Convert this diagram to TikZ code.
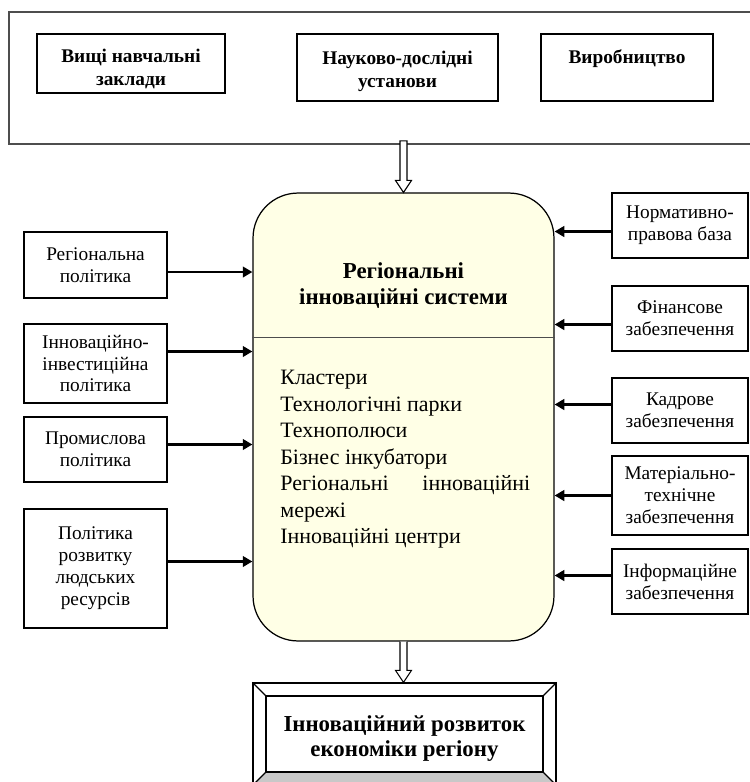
\documentclass[tikz,border=0pt]{standalone}
\usepackage{fontspec}
\setmainfont{Liberation Serif}
\usepackage{xcolor}
\usepackage{tikz}
\usetikzlibrary{positioning,arrows.meta,calc}

\definecolor{sysfill}{HTML}{FFFFE6}
\definecolor{bevelgray}{HTML}{C8C8C8}
\definecolor{framegray}{HTML}{4D4D4D}

\begin{document}
\begin{tikzpicture}[x=0.02cm, y=-0.02cm,
  topbox/.style={draw, line width=0.7pt, align=center, inner sep=0pt, font=\fontsize{11}{13}\selectfont\bfseries},
  sidebox/.style={draw, line width=0.7pt, align=center, inner sep=0pt, minimum width=2.86cm, font=\fontsize{11}{12.5}\selectfont},
  rightbox/.style={sidebox, minimum width=2.72cm},
  feed/.style={-{Triangle[length=5.5pt,width=6pt]}, line width=1.6pt},
  hollow/.style={draw, line width=0.6pt, fill=white}]

\useasboundingbox (0,0) rectangle (750,782);

% top frame
\node[draw=framegray, line width=1pt, minimum width=15.4cm, minimum height=2.64cm, inner sep=0pt] (frame) at (393.6,78) {};
\node[topbox, minimum width=3.76cm, minimum height=1.18cm] (univ) at (131,63.5) {\rule{0pt}{14pt}Вищі навчальні\\заклади};
\node[topbox, minimum width=4.02cm, minimum height=1.34cm] (inst) at (397.5,67.5) {\rule{0pt}{12pt}Науково-дослідні\\установи};
\node[topbox, minimum width=3.44cm, minimum height=1.34cm] (prod) at (627,67.5) {\rule{0pt}{12pt}Виробництво\\\strut};

% regional innovation system
\node[draw, line width=0.7pt, fill=sysfill, rounded corners=0.9cm, minimum width=6.02cm, minimum height=8.96cm, inner sep=0pt] (sys) at (403.5,417) {};
\draw[framegray, line width=0.8pt] ($(sys.north west)+(0,145)$) -- ($(sys.north east)+(0,145)$);
\node[font=\fontsize{13}{14.5}\selectfont\bfseries, align=center] (systitle) at (403.5,285.5) {Регіональні\\інноваційні системи};
\node[anchor=north west, inner sep=0pt, text width=5cm, align=justify, font=\fontsize{12.5}{15.1}\selectfont] (syslist) at (280,370)
  {Кластери\par Технологічні парки\par Технополюси\par Бізнес інкубатори\par Регіональні інноваційні\linebreak мережі\par Інноваційні центри};

% policies
\node[sidebox, minimum height=1.32cm] (regpol) at (95.5,265) {Регіональна\\політика};
\node[sidebox, minimum height=1.58cm] (invpol) at (95.5,363.5) {Інноваційно-\\інвестиційна\\політика};
\node[sidebox, minimum height=1.3cm] (indpol) at (95.5,449.5) {Промислова\\політика};
\node[sidebox, minimum height=2.38cm] (hrpol) at (95.5,568.5) {Політика\\розвитку\\людських\\ресурсів};

% support
\node[rightbox, minimum height=1.3cm] (legal) at (680,225.5) {Нормативно-\\правова база};
\node[rightbox, minimum height=1.3cm] (fin) at (680,318.5) {Фінансове\\забезпечення};
\node[rightbox, minimum height=1.3cm] (staff) at (680,410.5) {Кадрове\\забезпечення};
\node[rightbox, minimum height=1.58cm] (mat) at (680,495.5) {Матеріально-\\технічне\\забезпечення};
\node[rightbox, minimum height=1.3cm] (info) at (680,581.5) {Інформаційне\\забезпечення};

\foreach \b/\d in {regpol/7, invpol/-12, indpol/-5, hrpol/-7}
  \draw[feed] ($(\b.east)+(0,\d)$) -- ($(\b.east -| sys.west)+(0,\d)$);
\foreach \b/\d in {legal/6, fin/6, staff/-6, mat/0, info/-6}
  \draw[feed] ($(\b.west)+(0,\d)$) -- ($(\b.west -| sys.east)+(0,\d)$);

% result
\node[draw, line width=0.7pt, fill=white, minimum width=6.06cm, minimum height=2.04cm, inner sep=0pt] (result) at (404.5,734) {};
\fill[bevelgray] (result.south west) -- (result.south east) -- ($(result.south east)+(-13,-13)$) -- ($(result.south west)+(13,-13)$) -- cycle;
\node[draw, line width=0.7pt, minimum width=5.54cm, minimum height=1.52cm, inner sep=0pt, align=center, font=\fontsize{13}{14.5}\selectfont\bfseries] (resultin) at (404.5,734) {\rule{0pt}{14pt}Інноваційний розвиток\\економіки регіону};
\draw[line width=0.7pt] (result.south west) -- (result.south east);
\foreach \c in {north west, north east, south west, south east}
  \draw[line width=0.7pt] (result.\c) -- (resultin.\c);

% hollow arrows
\draw[hollow] ($(frame.south -| sys.north)+(-3.5,-4)$) -- ($(sys.north)+(-3.5,-12)$) -- ($(sys.north)+(-8,-12)$) -- (sys.north)
  -- ($(sys.north)+(8,-12)$) -- ($(sys.north)+(3.5,-12)$) -- ($(frame.south -| sys.north)+(3.5,-4)$) -- cycle;
\draw[hollow] ($(sys.south)+(-3.5,0)$) -- ($(sys.south |- result.north)+(-3.5,-12)$) -- ($(sys.south |- result.north)+(-8,-12)$) -- (sys.south |- result.north)
  -- ($(sys.south |- result.north)+(8,-12)$) -- ($(sys.south |- result.north)+(3.5,-12)$) -- ($(sys.south)+(3.5,0)$);

\end{tikzpicture}
\end{document}
